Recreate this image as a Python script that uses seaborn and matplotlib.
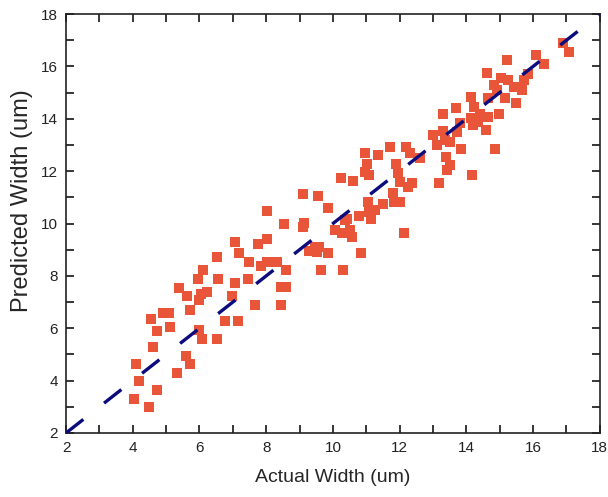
import pandas as pd
import matplotlib
matplotlib.use("Agg")
import matplotlib.pyplot as plt
import seaborn as sns
from matplotlib.ticker import MultipleLocator

# Datos
actual_width = [
    4.04, 4.10, 4.19, 4.49, 4.55, 4.61, 4.74, 4.74, 4.91, 5.08,
    5.12, 5.34, 5.40, 5.61, 5.64, 5.73, 5.73, 5.96, 5.98, 5.98,
    6.05, 6.07, 6.10, 6.23, 6.52, 6.54, 6.52, 6.76, 6.97, 7.06,
    7.15, 7.19, 7.45, 7.47, 7.66, 7.84, 8.01, 8.31, 8.43, 8.43,
    8.60, 8.60, 9.28, 9.51, 9.63, 9.86, 10.29, 10.85,
    7.06, 7.76, 8.01, 8.03, 8.52, 9.10, 9.12, 9.10, 9.45, 9.59,
    9.54, 9.85, 10.06, 10.24, 10.26, 10.35, 10.43, 10.50, 10.56, 10.59,
    10.79, 10.96, 11.02, 10.96, 11.08, 11.06, 11.08, 11.14, 11.26, 11.34,
    11.49, 11.72, 11.80, 11.84, 11.90, 11.96, 12.01, 12.01, 12.13, 12.19,
    12.24, 12.30, 12.36, 12.62, 13.00, 13.12, 13.18, 13.29, 13.29, 13.35,
    13.38, 13.41, 13.50, 13.52, 13.70, 13.73, 13.81, 13.84, 14.13, 14.13,
    14.16, 14.20, 14.22, 14.34, 14.40, 14.60, 14.63, 14.66, 14.66, 14.83,
    14.86, 14.92, 14.98, 15.04, 15.15, 15.21, 15.24, 15.44, 15.50, 15.67,
    15.73, 15.85, 16.09, 16.32, 16.90, 17.08,
]
predicted_width = [
    3.31, 4.62, 3.97, 2.99, 6.37, 5.28, 3.63, 5.91, 6.57, 6.57,
    6.04, 4.29, 7.54, 4.95, 7.22, 6.70, 4.62, 7.87, 7.06, 5.94,
    7.31, 5.60, 8.23, 7.38, 8.71, 7.87, 5.60, 6.26, 7.24, 7.72,
    6.26, 8.86, 7.88, 8.54, 6.90, 8.39, 8.54, 8.54, 6.90, 7.57,
    7.57, 8.23, 8.96, 8.90, 8.23, 8.86, 8.23, 8.86,
    9.30, 9.21, 9.39, 10.46, 9.97, 11.12, 10.03, 9.87, 9.11, 9.11,
    11.04, 10.61, 9.77, 11.72, 9.62, 10.13, 10.19, 9.77, 9.49, 11.63,
    10.28, 12.70, 12.29, 11.97, 11.85, 10.83, 10.45, 10.19, 10.51, 12.61,
    10.76, 12.93, 11.15, 10.83, 12.29, 11.91, 11.59, 10.83, 9.62, 12.93,
    11.40, 12.70, 11.53, 12.52, 13.38, 12.99, 11.53, 13.55, 14.18, 13.18,
    12.55, 12.04, 13.13, 12.23, 14.40, 13.51, 13.82, 12.83, 14.84, 14.01,
    11.85, 13.76, 14.46, 13.89, 14.20, 13.57, 15.76, 14.78, 14.08, 15.29,
    12.83, 15.10, 14.20, 15.55, 14.78, 16.24, 15.48, 15.20, 14.59, 15.10,
    15.48, 15.71, 16.43, 16.09, 16.90, 16.56,
]
ideal_line = [2, 18]


def plot_prediction():
    df = pd.DataFrame({"actual": actual_width, "predicted": predicted_width})

    sns.set_style("ticks")
    plt.rcParams["font.family"] = ["Liberation Sans", "DejaVu Sans"]

    fig = plt.figure(figsize=(6.08, 4.97), dpi=100)
    ax = fig.add_axes([0.1086, 0.1288, 0.878, 0.843])

    sns.scatterplot(data=df, x="actual", y="predicted", marker="s", s=52,
                    color="#e85539", linewidth=0, ax=ax, zorder=2)
    ax.plot(ideal_line, ideal_line, color="#0b0b7e", linewidth=2.4,
            dashes=(6.6, 7.9), zorder=3)

    ax.set_xlim(2, 18)
    ax.set_ylim(2, 18)
    ax.xaxis.set_major_locator(MultipleLocator(2))
    ax.yaxis.set_major_locator(MultipleLocator(2))
    ax.xaxis.set_minor_locator(MultipleLocator(1))
    ax.yaxis.set_minor_locator(MultipleLocator(1))
    ax.tick_params(which="both", direction="in", top=True, right=True,
                   length=6, width=1.1, color="black")
    ax.tick_params(which="major", labelsize=11, labelcolor="#222222", pad=6)
    for sp in ax.spines.values():
        sp.set_linewidth(1.2)
        sp.set_color("#222222")

    ax.set_xlabel("Actual Width (um)", fontsize=14)
    ax.set_ylabel("Predicted Width (um)", fontsize=17)
    ax.xaxis.set_label_coords(0.5, -0.085)
    ax.yaxis.set_label_coords(-0.062, 0.554)

    fig.savefig("out.png", dpi=100)
    plt.close(fig)


if __name__ == "__main__":
    plot_prediction()
